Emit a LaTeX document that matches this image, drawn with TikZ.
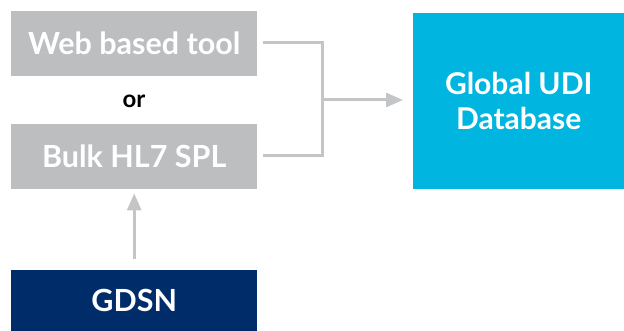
\documentclass[tikz,border=0pt]{standalone}
\usepackage{fontspec}
\setmainfont{Lato}
\usetikzlibrary{arrows.meta}
\definecolor{boxgray}{HTML}{BDBEC0}
\definecolor{linegray}{HTML}{C4C5C7}
\definecolor{udiblue}{HTML}{00B5DF}
\definecolor{navy}{HTML}{002D6A}
\begin{document}
\begin{tikzpicture}[x=1pt,y=-1pt,
  box/.style={draw=none,inner sep=0pt,minimum width=246pt,anchor=north west,font=\fontsize{30.5}{34}\selectfont\bfseries,text=white},
  conn/.style={draw=linegray,line width=3pt},
  tip/.style={-{Triangle[length=17pt,width=14pt]}}]
\useasboundingbox (0,0) rectangle (624,331);
\node[box,fill=boxgray,minimum height=65pt] (web) at (11,11) {Web based tool};
\node[font=\fontsize{24}{28}\selectfont\bfseries] (or) at (134,101) {or};
\node[box,fill=boxgray,minimum height=65pt] (bulk) at (11,124) {Bulk HL7 SPL};
\node[box,fill=navy,minimum height=61pt] (gdsn) at (11,270) {GDSN};
\node[draw=none,fill=udiblue,inner sep=0pt,minimum width=211pt,minimum height=176pt,anchor=north west,align=center,text=white,font=\fontsize{30}{35}\selectfont\bfseries] (udi) at (413,13) {Global UDI\\Database};
\coordinate (wa) at ([xshift=6pt]web.east |- 0,43);
\coordinate (ba) at ([xshift=6pt]bulk.east |- 0,156);
\coordinate (j1) at (322,43);
\coordinate (j2) at (322,156);
\coordinate (jm) at (322,100);
\coordinate (ue) at ([xshift=-10pt]udi.west |- 0,100);
\draw[conn,line cap=butt] (wa) -- (j1) -- (j2) -- (ba);
\draw[conn,tip] (jm) -- (ue);
\coordinate (gs) at ([yshift=11pt]gdsn.north);
\coordinate (bs) at ([yshift=-4pt]bulk.south);
\draw[conn,tip] (gs) -- (bs);
\end{tikzpicture}
\end{document}
